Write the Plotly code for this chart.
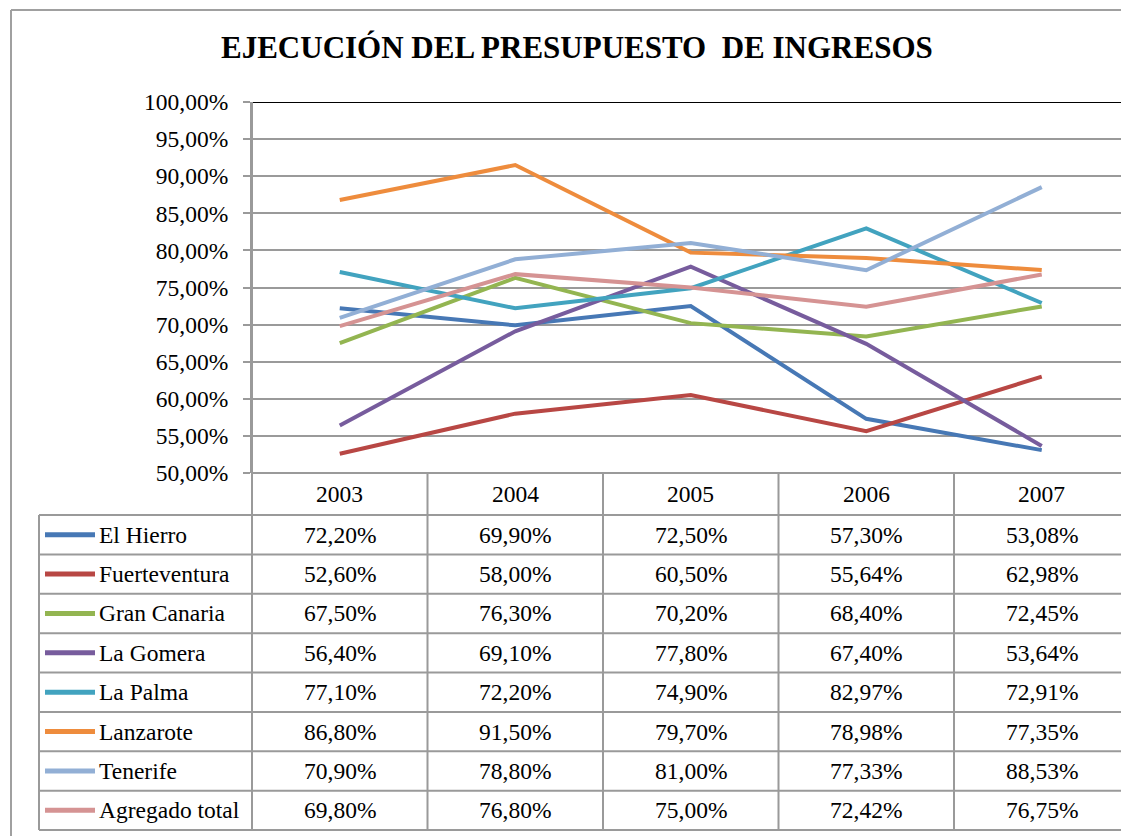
import plotly.graph_objects as go

years = ["2003", "2004", "2005", "2006", "2007"]
series_names = ["El Hierro", "Fuerteventura", "Gran Canaria", "La Gomera",
                "La Palma", "Lanzarote", "Tenerife", "Agregado total"]
el_hierro = [72.20, 69.90, 72.50, 57.30, 53.08]
fuerteventura = [52.60, 58.00, 60.50, 55.64, 62.98]
gran_canaria = [67.50, 76.30, 70.20, 68.40, 72.45]
la_gomera = [56.40, 69.10, 77.80, 67.40, 53.64]
la_palma = [77.10, 72.20, 74.90, 82.97, 72.91]
lanzarote = [86.80, 91.50, 79.70, 78.98, 77.35]
tenerife = [70.90, 78.80, 81.00, 77.33, 88.53]
agregado = [69.80, 76.80, 75.00, 72.42, 76.75]
series_values = [el_hierro, fuerteventura, gran_canaria, la_gomera,
                 la_palma, lanzarote, tenerife, agregado]
colors = ["#4778B5", "#B84744", "#93B551", "#775C9D",
          "#42A3BF", "#EE8C3D", "#92AFD5", "#D59393"]
y_ticks = [50, 55, 60, 65, 70, 75, 80, 85, 90, 95, 100]

W, H = 1121, 836
L, T, B_PX = 252, 102, 473
PW, PH = W - L, B_PX - T
CATW = 175.5
FONT = "Liberation Serif"
FS = 23.5
GRID = "#9a9a9a"


def pct(v):
    return f"{v:.2f}%".replace(".", ",")


def px(x):
    return (x - L) / PW


def py(y):
    return (B_PX - y) / PH


fig = go.Figure()
xs = list(range(len(years)))
for name, vals, c in zip(series_names, series_values, colors):
    fig.add_trace(go.Scatter(x=xs, y=vals, mode="lines", name=name,
                             line=dict(color=c, width=4), showlegend=False,
                             hoverinfo="skip"))

x_max = -0.5 + PW / CATW
shapes = []
annotations = []

shapes.append(dict(type="line", xref="paper", yref="y", x0=0, x1=1, y0=100, y1=100,
                   line=dict(color="black", width=2)))
shapes.append(dict(type="line", xref="paper", yref="paper", x0=0, x1=1, y0=0, y1=0,
                   line=dict(color=GRID, width=2)))

header_bot = 515
row_h = 39.375
n_rows = len(series_names)
table_bot = header_bot + n_rows * row_h
left_col = 39

shapes.append(dict(type="line", xref="paper", yref="paper", x0=0, x1=0,
                   y0=py(T), y1=py(table_bot), line=dict(color=GRID, width=2)))
for i in range(len(years)):
    xb = i + 0.5
    if xb < x_max:
        shapes.append(dict(type="line", xref="x", yref="paper", x0=xb, x1=xb,
                           y0=0, y1=py(table_bot), line=dict(color=GRID, width=2)))
shapes.append(dict(type="line", xref="paper", yref="paper", x0=px(left_col), x1=px(left_col),
                   y0=py(header_bot), y1=py(table_bot), line=dict(color=GRID, width=2)))
for k in range(n_rows + 1):
    yy = header_bot + k * row_h
    shapes.append(dict(type="line", xref="paper", yref="paper", x0=px(left_col), x1=1,
                       y0=py(yy), y1=py(yy), line=dict(color=GRID, width=2)))

shapes.append(dict(type="line", xref="paper", yref="paper", x0=px(11), x1=px(11),
                   y0=py(10), y1=py(H + 5), line=dict(color="#a0a0a0", width=2)))
shapes.append(dict(type="line", xref="paper", yref="paper", x0=px(11), x1=1.01,
                   y0=py(10), y1=py(10), line=dict(color="#a0a0a0", width=2)))

for i, yr in enumerate(years):
    annotations.append(dict(x=i, y=py((B_PX + header_bot) / 2), xref="x", yref="paper",
                            text=yr, showarrow=False, xanchor="center", yanchor="middle",
                            font=dict(family=FONT, size=FS, color="black")))

for r, (name, vals, c) in enumerate(zip(series_names, series_values, colors)):
    yc = header_bot + (r + 0.5) * row_h
    shapes.append(dict(type="line", xref="paper", yref="paper", x0=px(45), x1=px(95),
                       y0=py(yc), y1=py(yc), line=dict(color=c, width=5)))
    annotations.append(dict(x=px(97), y=py(yc), xref="paper", yref="paper", text=name,
                            showarrow=False, xanchor="left", yanchor="middle",
                            font=dict(family=FONT, size=FS, color="black")))
    for i, v in enumerate(vals):
        annotations.append(dict(x=i, y=py(yc), xref="x", yref="paper", text=pct(v),
                                showarrow=False, xanchor="center", yanchor="middle",
                                font=dict(family=FONT, size=FS, color="black")))

annotations.append(dict(x=px(577), y=py(48), xref="paper", yref="paper",
                        text="<b>EJECUCIÓN DEL PRESUPUESTO  DE INGRESOS</b>",
                        showarrow=False, xanchor="center", yanchor="middle",
                        font=dict(family=FONT, size=31, color="black")))

fig.update_layout(
    width=W, height=H, autosize=False,
    margin=dict(l=L, r=0, t=T, b=H - B_PX, pad=0),
    paper_bgcolor="white", plot_bgcolor="white",
    font=dict(family=FONT, size=FS, color="black"),
    shapes=shapes, annotations=annotations,
    xaxis=dict(range=[-0.5, x_max], showgrid=False, showticklabels=False,
               zeroline=False, showline=False, ticks="", fixedrange=True),
    yaxis=dict(range=[50, 100], tickvals=y_ticks, ticktext=[pct(v) for v in y_ticks],
               showgrid=True, gridcolor=GRID, gridwidth=2, zeroline=False,
               showline=True, linecolor=GRID, linewidth=2,
               ticks="outside", ticklen=7, tickwidth=2, tickcolor=GRID,
               ticklabelstandoff=10, fixedrange=True,
               tickfont=dict(family=FONT, size=FS, color="black")),
)

fig.write_html("out.html", config={"displayModeBar": False},
               post_script="document.body.style.margin='0';document.body.style.overflow='hidden';")
